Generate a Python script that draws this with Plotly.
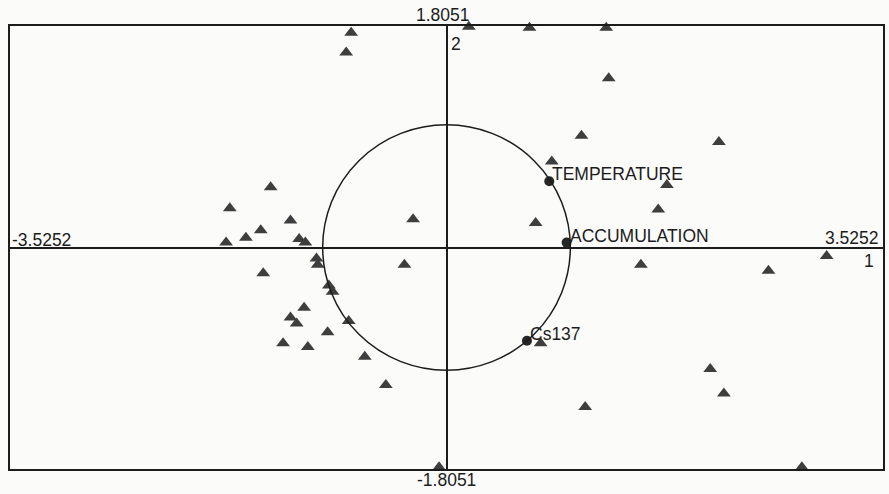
import plotly.graph_objects as go

# Principal component scores of the samples (component 1, component 2)
score_pc1 = [-0.77, -0.81, 0.18, 0.67, 1.29, 1.31, 2.20, 1.09, 0.85, 1.78,
             1.71, 0.72, -0.27, -0.34, 1.57, 2.60, 3.07, -1.42, -1.75, -1.26,
             -1.50, -1.62, -1.78, -1.19, -1.14, -1.05, -1.04, -1.48, -0.95, -0.92,
             -1.15, -1.26, -1.21, -0.79, -0.96, -1.32, -1.12, -0.66, -0.49, 0.76,
             1.12, -0.06, 2.13, 2.24, 2.87]
score_pc2 = [1.75, 1.59, 1.80, 1.79, 1.79, 1.38, 0.86, 0.91, 0.70, 0.51,
             0.31, 0.20, 0.23, -0.14, -0.14, -0.19, -0.07, 0.49, 0.32, 0.22,
             0.14, 0.08, 0.04, 0.07, 0.04, -0.09, -0.14, -0.21, -0.31, -0.36,
             -0.49, -0.57, -0.62, -0.60, -0.69, -0.78, -0.81, -0.89, -1.12, -0.78,
             -1.30, -1.79, -0.99, -1.19, -1.79]

# Variable loadings (correlation with the components)
variables = ["TEMPERATURE", "ACCUMULATION", "Cs137"]
load_pc1 = [0.83, 0.97, 0.65]
load_pc2 = [0.54, 0.04, -0.76]

# Axis extents
x_lim = 3.5252
y_lim = 1.8051
x_ticks = ["-3.5252", "3.5252"]
y_ticks = ["-1.8051", "1.8051"]
axis_names = ["1", "2"]

INK = "#1c1c1c"
FONT = dict(family="Liberation Sans, Arial, sans-serif", size=17.5, color=INK)

fig = go.Figure()

fig.add_trace(go.Scatter(
    x=score_pc1, y=score_pc2, mode="markers",
    marker=dict(symbol="triangle-up", size=12, color="#3e3e3e", line=dict(width=0)),
    cliponaxis=False, showlegend=False, hoverinfo="skip"))

fig.add_trace(go.Scatter(
    x=load_pc1, y=load_pc2, mode="markers",
    marker=dict(symbol="circle", size=10, color="#262626", line=dict(width=0)),
    cliponaxis=False, showlegend=False, hoverinfo="skip"))

# Unit correlation circle
fig.add_shape(type="circle", xref="x", yref="y", x0=-1, y0=-1, x1=1, y1=1,
              line=dict(color=INK, width=1.5))

# Variable labels
for name, vx, vy in zip(variables, load_pc1, load_pc2):
    fig.add_annotation(x=vx, y=vy, text=name, showarrow=False,
                       xanchor="left", yanchor="middle", xshift=1, yshift=7, font=FONT)

# Extent labels
fig.add_annotation(x=0, y=1, xref="x", yref="paper", text=y_ticks[1], showarrow=False,
                   xanchor="center", yanchor="bottom", xshift=-4, yshift=-1, font=FONT)
fig.add_annotation(x=0, y=0, xref="x", yref="paper", text=y_ticks[0], showarrow=False,
                   xanchor="center", yanchor="top", xshift=0, yshift=1, font=FONT)
fig.add_annotation(x=0, y=0, xref="paper", yref="y", text=x_ticks[0], showarrow=False,
                   xanchor="left", yanchor="bottom", xshift=0, yshift=-4, font=FONT)
fig.add_annotation(x=1, y=0, xref="paper", yref="y", text=x_ticks[1], showarrow=False,
                   xanchor="right", yanchor="bottom", xshift=-2, yshift=-2, font=FONT)

# Component numbers
fig.add_annotation(x=0, y=1, xref="x", yref="paper", text=axis_names[1], showarrow=False,
                   xanchor="left", yanchor="top", xshift=2, yshift=-6, font=FONT)
fig.add_annotation(x=1, y=0, xref="paper", yref="y", text=axis_names[0], showarrow=False,
                   xanchor="right", yanchor="top", xshift=-7, yshift=-1, font=FONT)

axis_common = dict(showgrid=False, showticklabels=False, ticks="",
                   zeroline=True, zerolinecolor=INK, zerolinewidth=1.5,
                   showline=True, linecolor=INK, linewidth=2, mirror=True)

fig.update_xaxes(range=[-x_lim, x_lim], **axis_common)
fig.update_yaxes(range=[-y_lim, y_lim], **axis_common)

fig.update_layout(
    width=889, height=494,
    margin=dict(l=10, r=4, t=26, b=25),
    paper_bgcolor="#fbfbfa", plot_bgcolor="#fbfbfa",
    showlegend=False,
)

fig.write_html("out.html")
